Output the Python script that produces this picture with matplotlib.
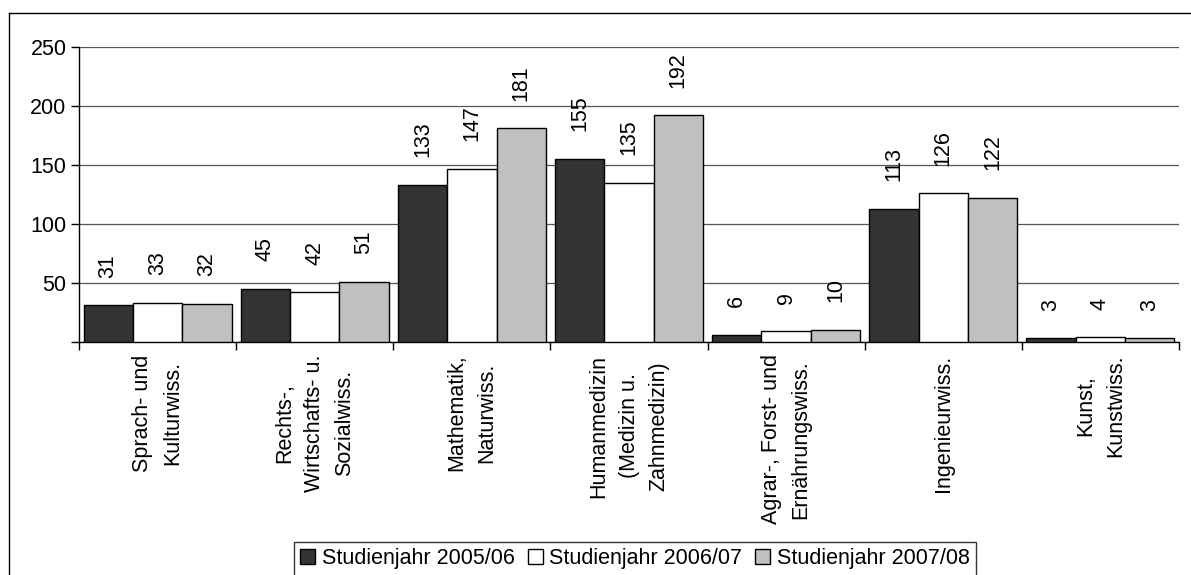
import numpy as np
import matplotlib
matplotlib.use("Agg")
import matplotlib.pyplot as plt
from matplotlib.lines import Line2D

plt.rcParams["font.family"] = ["Liberation Sans", "DejaVu Sans"]

categories = [
    "Sprach- und\nKulturwiss.",
    "Rechts-,\nWirtschafts- u.\nSozialwiss.",
    "Mathematik,\nNaturwiss.",
    "Humanmedizin\n(Medizin u.\nZahnmedizin)",
    "Agrar-, Forst- und\nErnährungswiss.",
    "Ingenieurwiss.",
    "Kunst,\nKunstwiss.",
]
series_names = ["Studienjahr 2005/06", "Studienjahr 2006/07", "Studienjahr 2007/08"]
y2005 = [31, 45, 133, 155, 6, 113, 3]
y2006 = [33, 42, 147, 135, 9, 126, 4]
y2007 = [32, 51, 181, 192, 10, 122, 3]
colors = ["#333333", "#ffffff", "#c0c0c0"]

fs = 15.5

fig = plt.figure(figsize=(11.91, 5.75), dpi=100)
ax = fig.add_axes([79 / 1191, 1 - 342 / 575, 1100 / 1191, 295 / 575])

x = np.arange(len(categories))
w = 0.314
handles = []
for i, (vals, name, c) in enumerate(zip([y2005, y2006, y2007], series_names, colors)):
    pos = x + (i - 1) * w
    bars = ax.bar(pos, vals, width=w, color=c, edgecolor="black", linewidth=1.0,
                  label=name, zorder=3)
    handles.append(bars)
    for px, v in zip(pos, vals):
        ax.annotate(str(v), (px, v), xytext=(0, 20), textcoords="offset points",
                    rotation=90, ha="center", va="bottom", fontsize=fs)

ax.set_xlim(-0.5, len(categories) - 0.5)
ax.set_ylim(0, 250)
ax.set_yticks([0, 50, 100, 150, 200, 250])
ax.set_yticklabels(["", "50", "100", "150", "200", "250"], fontsize=fs)
ax.yaxis.grid(True, color="#555555", linewidth=0.9, zorder=0)
ax.set_axisbelow(True)
ax.tick_params(axis="y", direction="out", length=6, width=1, pad=3)

ax.set_xticks(np.arange(len(categories) + 1) - 0.5)
ax.set_xticklabels([])
ax.tick_params(axis="x", direction="out", length=6, width=1)
ax.set_xticks(x, minor=True)
ax.set_xticklabels(categories, minor=True, rotation=90, fontsize=fs,
                   ha="center", va="top", multialignment="center",
                   linespacing=1.55)
ax.tick_params(axis="x", which="minor", length=0, pad=9)

for s in ["top", "right"]:
    ax.spines[s].set_visible(False)
ax.spines["left"].set_linewidth(1)
ax.spines["bottom"].set_linewidth(1)

leg = fig.legend(handles=handles, labels=series_names, loc="upper center",
                 bbox_to_anchor=(635 / 1191, 1 - 542 / 575), ncol=3, fontsize=fs,
                 frameon=True, fancybox=False, edgecolor="black",
                 handlelength=0.7, handleheight=0.7, handletextpad=0.3,
                 columnspacing=0.6, borderpad=0.3, borderaxespad=0)
leg.get_frame().set_linewidth(1)

# outer frame
fig.add_artist(Line2D([9 / 1191, 9 / 1191], [0, 1 - 13 / 575], color="black",
                      linewidth=1, transform=fig.transFigure))
fig.add_artist(Line2D([9 / 1191, 1], [1 - 13 / 575, 1 - 13 / 575], color="black",
                      linewidth=1, transform=fig.transFigure))

fig.savefig("out.png", dpi=100)
